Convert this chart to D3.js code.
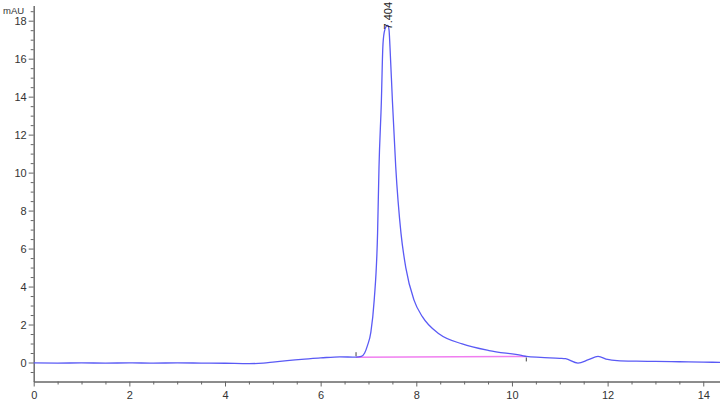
<!DOCTYPE html>
<html>
<head>
<meta charset="utf-8">
<script src="https://cdn.jsdelivr.net/npm/d3@7"></script>
<style>
html,body{margin:0;padding:0;background:#fff;}
svg{display:block;font-family:"Liberation Sans",Arial,sans-serif;}
</style>
</head>
<body>
<svg id="chart" width="720" height="410"></svg>
<script>
// retention time (min)
const times = [0.0,0.5,1.0,1.5,2.0,2.5,3.0,3.5,4.0,4.5,4.8,5.0,5.3,5.6,6.0,6.4,6.74,6.85,6.92,6.98,7.05,7.12,7.19,7.22,7.27,7.30,7.33,7.37,7.404,7.43,7.45,7.50,7.57,7.68,7.78,7.95,8.13,8.48,8.96,9.52,10.2,10.3,10.6,11.0,11.12,11.38,11.6,11.8,12.0,12.2,12.6,13.0,13.5,14.0,14.35];
// signal (mAU)
const signal = [-0.02,-0.03,-0.02,-0.03,-0.02,-0.03,-0.02,-0.03,-0.04,-0.06,-0.03,0.02,0.10,0.17,0.24,0.30,0.28,0.32,0.50,0.90,1.6,3.3,6.8,10.3,13.8,16.6,17.4,17.7,17.75,17.5,16.6,13.8,10.3,6.8,5.0,3.3,2.4,1.5,0.98,0.63,0.37,0.32,0.27,0.22,0.20,-0.03,0.15,0.32,0.16,0.10,0.07,0.06,0.04,0.02,0.01];
// integration baseline for the peak
const baseTimes = [6.74, 10.3];
const baseValues = [0.28, 0.32];
// peak label
const peakTime = 7.404;
const peakValue = 17.75;
const peakLabel = "7.404";
// axis ticks
const xMajor = [0,2,4,6,8,10,12,14];
const yMajor = [0,2,4,6,8,10,12,14,16,18];
const yUnit = "mAU";

const svg = d3.select("#chart");
const x = d3.scaleLinear().domain([0, 14.35]).range([33.7, 720]);
const y = d3.scaleLinear().domain([-1, 18.8]).range([381.5, 5.5]);

const axisColor = "#666";
const textColor = "#333";

// minor ticks
const xMinor = d3.range(0, 14.35, 0.5).filter(v => !xMajor.includes(v));
const yMinor = d3.range(-0.5, 18.8, 0.5).filter(v => !yMajor.includes(v) && Math.abs(v) > 1e-9);

const gx = svg.append("g").attr("transform", `translate(0,${y(-1)})`);
gx.call(d3.axisBottom(x).tickValues(xMajor).tickSize(5).tickSizeOuter(0).tickFormat(d3.format("d")));
gx.append("g").call(d3.axisBottom(x).tickValues(xMinor).tickSize(3).tickSizeOuter(0).tickFormat(""));

const gy = svg.append("g").attr("transform", `translate(${x(0)},0)`);
gy.call(d3.axisLeft(y).tickValues(yMajor).tickSize(5).tickSizeOuter(0).tickFormat(d3.format("d")));
gy.append("g").call(d3.axisLeft(y).tickValues(yMinor).tickSize(3).tickSizeOuter(0).tickFormat(""));

svg.selectAll(".domain").attr("stroke", axisColor).attr("stroke-width", 1);
svg.selectAll(".tick line").attr("stroke", axisColor).attr("stroke-width", 1);
svg.selectAll(".tick text").attr("fill", textColor).attr("font-size", 11)
   .attr("font-family", "'Liberation Sans', Arial, sans-serif");
gx.selectAll(".tick text").attr("dy", "0.85em");
gy.selectAll(".tick text").attr("x", -7);

svg.append("text").attr("x", 3).attr("y", 14).attr("text-anchor", "start")
   .attr("font-size", 9.5).attr("fill", textColor).text(yUnit);

// integration baseline
const baseData = baseTimes.map((t,i)=>[t, baseValues[i]]);
svg.append("path").datum(baseData)
   .attr("d", d3.line().x(d=>x(d[0])).y(d=>y(d[1])))
   .attr("stroke", "#f07ef0").attr("stroke-width", 1.5).attr("fill", "none");

// trace
const data = times.map((t,i)=>[t, signal[i]]);
svg.append("path").datum(data)
   .attr("d", d3.line().curve(d3.curveMonotoneX).x(d=>x(d[0])).y(d=>y(d[1])))
   .attr("stroke", "#5a5af5").attr("stroke-width", 1.3).attr("fill", "none")
   .attr("stroke-linejoin", "round");

// baseline start/end markers
svg.append("line").attr("x1", x(baseTimes[0])).attr("x2", x(baseTimes[0]))
   .attr("y1", y(baseValues[0]) - 5).attr("y2", y(baseValues[0]) - 1)
   .attr("stroke", "#444").attr("stroke-width", 1);
svg.append("line").attr("x1", x(baseTimes[1])).attr("x2", x(baseTimes[1]))
   .attr("y1", y(baseValues[1]) + 1).attr("y2", y(baseValues[1]) + 5)
   .attr("stroke", "#444").attr("stroke-width", 1);

// peak label
svg.append("text")
   .attr("transform", `translate(${x(peakTime)+4},${y(peakValue)+4}) rotate(-90)`)
   .attr("font-size", 11).attr("fill", "#222").text(peakLabel);
</script>
</body>
</html>
